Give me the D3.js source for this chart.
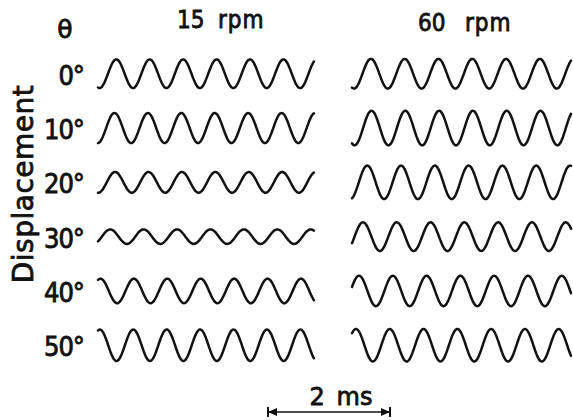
<!DOCTYPE html>
<html>
<head>
<meta charset="utf-8">
<script src="https://cdn.jsdelivr.net/npm/d3@7"></script>
<style>
  html, body { margin: 0; padding: 0; background: #fff; }
  svg { display: block; }
  .lbl {
    font-family: 'DejaVu Sans Condensed', 'DejaVu Sans', sans-serif;
    fill: #111; stroke: #111; stroke-width: 0.8px;
  }
</style>
</head>
<body>
<svg id="chart" width="573" height="420"></svg>
<script>
// angle of each row and the two rotation speeds (columns)
const thetas = ["0°", "10°", "20°", "30°", "40°", "50°"];
const speeds = ["15 rpm", "60 rpm"];

// relative displacement amplitude of each trace (1 = largest)
const amp15 = [0.83, 0.87, 0.60, 0.42, 0.71, 0.91];
const amp60 = [0.86, 1.00, 0.97, 0.83, 0.88, 0.94];

// time of the first displacement peak in each trace, ms
const peak15 = [0.30, 0.27, 0.28, 0.20, 0.04, 0.03];
const peak60 = [0.31, 0.32, 0.25, 0.18, 0.115, 0.065];

// oscillation period and recorded length per column, ms
const periodMs = [0.548, 0.554];
const traceMs = [3.54, 3.59];

const scaleBarMs = 2;

const svg = d3.select("#chart");

const pxPerMs = 61;
const colX = [98, 352];
const ampPx = 17.3;

const yRow = d3.scalePoint()
    .domain(thetas)
    .range([73.75, 345.25]);

const xCols = colX.map((x0, i) => d3.scaleLinear()
    .domain([0, traceMs[i]])
    .range([x0, x0 + traceMs[i] * pxPerMs]));

const amps = [amp15, amp60];
const peaks = [peak15, peak60];

// headers
svg.append("text")
    .attr("class", "lbl")
    .attr("x", 65).attr("y", 38)
    .attr("text-anchor", "middle")
    .style("font-family", "'DejaVu Sans', sans-serif")
    .style("font-size", "25px")
    .text("θ");

// header positions: start of the number and of "rpm"
const headX = [[177, 218], [418, 465]];
speeds.forEach((s, i) => {
    const [num, unit] = s.split(" ");
    const t = svg.append("text")
        .attr("class", "lbl")
        .attr("y", i ? 31 : 28)
        .style("font-size", "24px");
    t.append("tspan").attr("x", headX[i][0]).text(num);
    t.append("tspan").attr("x", headX[i][1]).style("letter-spacing", "1px").text(unit);
});

// row labels
svg.selectAll(".row-lbl")
    .data(thetas)
    .enter()
    .append("text")
    .attr("class", "lbl row-lbl")
    .attr("x", 84)
    .attr("y", d => yRow(d) + 11)
    .attr("text-anchor", "end")
    .style("font-size", "27px")
    .style("letter-spacing", "-1px")
    .text(d => d);

// axis title
svg.append("text")
    .attr("class", "lbl")
    .attr("transform", "translate(33,184) rotate(-90)")
    .attr("text-anchor", "middle")
    .style("font-family", "'DejaVu Sans', sans-serif")
    .style("font-size", "28px")
    .style("letter-spacing", "0.5px")
    .text("Displacement");

// traces
const line = d3.line().curve(d3.curveBasis);

speeds.forEach((s, c) => {
    const xs = xCols[c];
    const ts = d3.range(0, traceMs[c] + 1e-9, 0.01);
    thetas.forEach((th, r) => {
        const a = amps[c][r];
        const p0 = peaks[c][r];
        const pts = ts.map(t => [
            xs(t),
            yRow(th) - a * ampPx * Math.cos(2 * Math.PI * (t - p0) / periodMs[c])
        ]);
        svg.append("path")
            .attr("d", line(pts))
            .attr("fill", "none")
            .attr("stroke", "#111")
            .attr("stroke-width", 2.5)
            .attr("stroke-linejoin", "round")
            .attr("stroke-linecap", "round");
    });
});

// 2 ms scale bar
const barX = d3.scaleLinear()
    .domain([0, scaleBarMs])
    .range([268, 268 + scaleBarMs * pxPerMs]);
const barY = 412;
const bar = svg.append("g");
bar.append("line")
    .attr("x1", barX(0)).attr("x2", barX(scaleBarMs))
    .attr("y1", barY).attr("y2", barY)
    .attr("stroke", "#111").attr("stroke-width", 1.6);
[0, scaleBarMs].forEach(v => {
    const x = barX(v);
    const dir = v === 0 ? 1 : -1;
    bar.append("line")
        .attr("x1", x).attr("x2", x)
        .attr("y1", barY - 5).attr("y2", barY + 5)
        .attr("stroke", "#111").attr("stroke-width", 2);
    bar.append("path")
        .attr("d", `M${x},${barY} L${x + dir * 9},${barY - 4} L${x + dir * 9},${barY + 4} Z`)
        .attr("fill", "#111");
});
svg.append("text")
    .attr("class", "lbl")
    .attr("x", (barX(0) + barX(scaleBarMs)) / 2 + 12)
    .attr("y", 405)
    .attr("text-anchor", "middle")
    .style("font-family", "'DejaVu Sans', sans-serif")
    .style("font-size", "24px")
    .style("word-spacing", "4px")
    .text(scaleBarMs + " ms");
</script>
</body>
</html>
